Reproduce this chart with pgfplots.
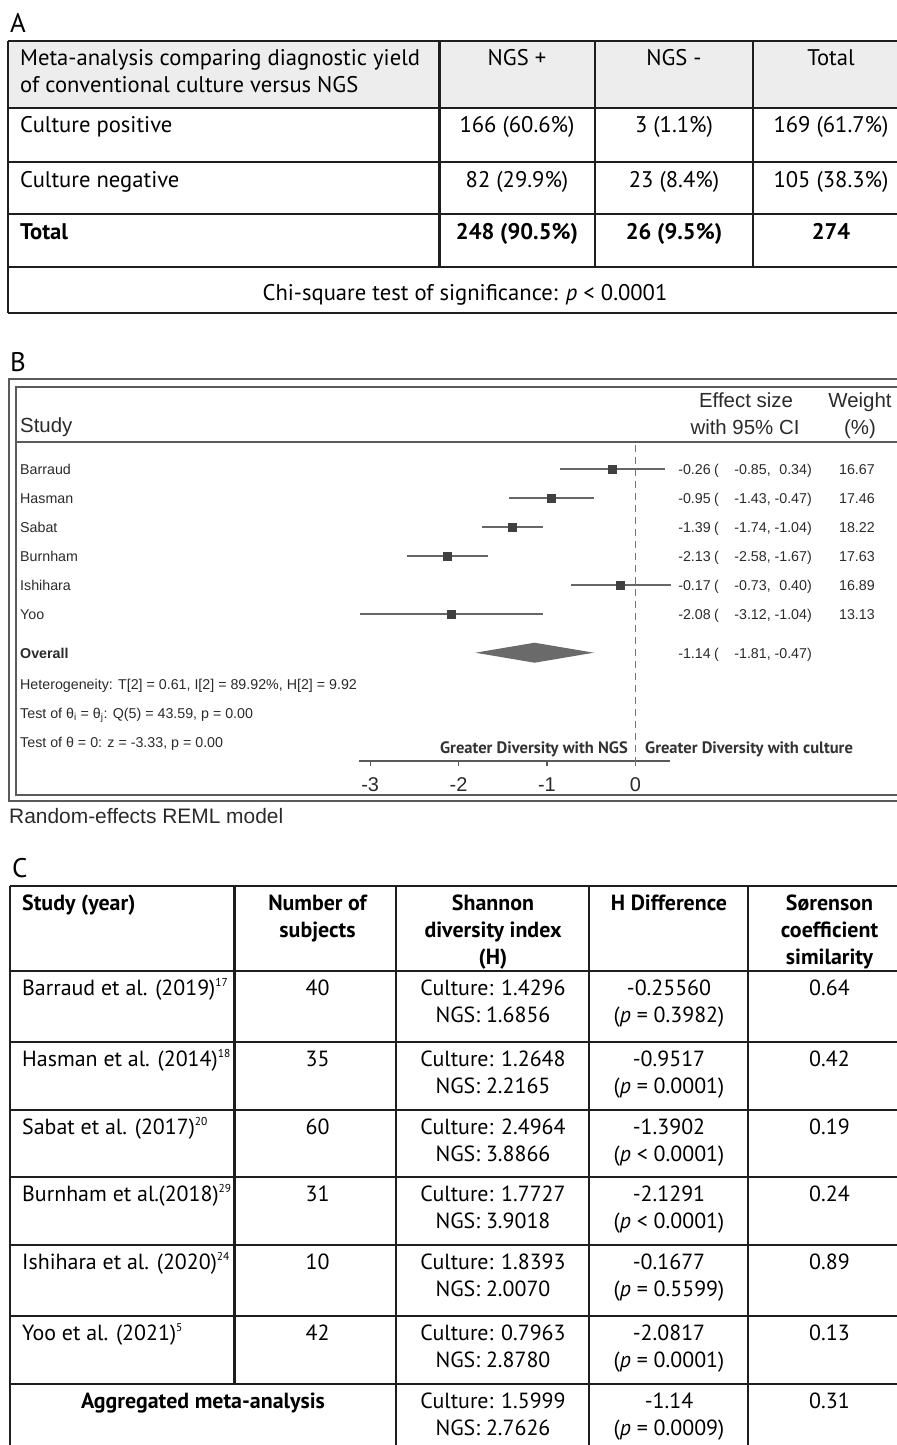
\documentclass[border=0pt]{standalone}
\usepackage{fontspec}
\setmainfont{PT Sans}
\newfontfamily\arialf{Liberation Sans}
\usepackage{pgfplots}
\pgfplotsset{compat=1.18}
\usepackage{pgfplotstable}

\definecolor{rule}{HTML}{1E1E1E}
\definecolor{hdr}{HTML}{EDEDED}
\definecolor{frame}{HTML}{5A5A5A}
\definecolor{ciline}{HTML}{666666}
\definecolor{sqfill}{HTML}{404040}
\definecolor{diam}{HTML}{6A6A6A}
\definecolor{ftext}{HTML}{2A2A2A}

\newcommand\tabAfont{\fontsize{22.7}{25}\selectfont}
\newcommand\tabfont{\fontsize{22}{25}\selectfont}
\newcommand\labfont{\fontsize{27}{30}\selectfont}
\newcommand\smallfont{\arialf\fontsize{14.3}{17}\selectfont}
\newcommand\headfont{\arialf\fontsize{20.5}{24}\selectfont}
\newcommand\divfont{\fontsize{16.6}{19}\selectfont\bfseries}
\newcommand\sref[1]{\raisebox{8.5bp}{\fontsize{11.5}{12}\selectfont#1}}

% forest plot data (y = row position, pixels above the axis line)
\pgfplotstableread{
ypos  es     lo     hi    wt
292  -0.26  -0.85   0.34  16.67
263  -0.95  -1.43  -0.47  17.46
234  -1.39  -1.74  -1.04  18.22
205  -2.13  -2.58  -1.67  17.63
176  -0.17  -0.73   0.40  16.89
147  -2.08  -3.12  -1.04  13.13
}\studies

\begin{document}
\begin{tikzpicture}
\begin{scope}[x=1bp,y=-1bp,every node/.style={inner sep=0pt}]
% ---------------- panel A ----------------
\node[anchor=base west,font=\labfont] at (10,32) {A};
\fill[hdr] (8,41) rectangle (906,108);
\begin{scope}[line width=2.2bp,draw=rule]
\foreach \yy in {41,108,162,214,267,313} \draw (8,\yy) -- (906,\yy);
\draw (8,41) -- (8,313);
\foreach \xx in {439.5,595,753} \draw (\xx,41) -- (\xx,267);
\end{scope}
\begin{scope}[font=\tabAfont]
\node[anchor=base west] at (20,65) {Meta-analysis comparing diagnostic yield};
\node[anchor=base west] at (20,92) {of conventional culture versus NGS};
\node[anchor=base] at (517,65) {NGS +};
\node[anchor=base] at (674,65) {NGS -};
\node[anchor=base] at (831,65) {Total};
\node[anchor=base west] at (20,132) {Culture positive};
\node[anchor=base] at (517,132) {166 (60.6\%)};
\node[anchor=base] at (674,132) {3 (1.1\%)};
\node[anchor=base] at (831,132) {169 (61.7\%)};
\node[anchor=base west] at (20,187) {Culture negative};
\node[anchor=base] at (517,187) {82 (29.9\%)};
\node[anchor=base] at (674,187) {23 (8.4\%)};
\node[anchor=base] at (831,187) {105 (38.3\%)};
\node[anchor=base west] at (20,239) {\bfseries Total};
\node[anchor=base] at (517,239) {\bfseries 248 (90.5\%)};
\node[anchor=base] at (674,239) {\bfseries 26 (9.5\%)};
\node[anchor=base] at (831,239) {\bfseries 274};
\node[anchor=base] at (465,300) {Chi-square test of significance: \textit{p} < 0.0001};
\end{scope}

% ---------------- panel B ----------------
\node[anchor=base west,font=\labfont] at (10,371) {B};
\begin{scope}[draw=frame,line width=1.4bp]
\draw (910,379) -- (9,379) -- (9,801) -- (910,801);
\draw (910,387) -- (16,387) -- (16,795) -- (910,795);
\draw[line width=2.4bp] (16,442) -- (910,442);
\end{scope}
\begin{scope}[text=ftext]
\node[anchor=base west,font=\headfont] at (20,432) {Study};
\node[anchor=base,font=\headfont] at (746,407) {Effect size};
\node[anchor=base,font=\headfont] at (745,434) {with 95\% CI};
\node[anchor=base,font=\headfont] at (860,407) {Weight};
\node[anchor=base,font=\headfont] at (860,434) {(\%)};
\foreach \yy/\nm in {474/Barraud,503/Hasman,532/Sabat,561/Burnham,590/Ishihara,619/Yoo}
  \node[anchor=base west,font=\smallfont] at (20,\yy) {\nm};
\node[anchor=base west,font=\smallfont\bfseries] at (20,658) {Overall};
\node[anchor=base west,font=\smallfont] at (20,689.5) {Heterogeneity: T[2] = 0.61, I[2] = 89.92\%, H[2] = 9.92};
\node[anchor=base west,font=\smallfont] at (20,718) {Test of θ\textsubscript{i} = θ\textsubscript{j}: Q(5) = 43.59, p = 0.00};
\node[anchor=base west,font=\smallfont] at (20,747) {Test of θ = 0: z = -3.33, p = 0.00};
\foreach \yy/\es/\lo/\hi/\wt in {474/-0.26/-0.85/0.34/16.67, 503/-0.95/-1.43/-0.47/17.46,
    532/-1.39/-1.74/-1.04/18.22, 561/-2.13/-2.58/-1.67/17.63,
    590/-0.17/-0.73/0.40/16.89, 619/-2.08/-3.12/-1.04/13.13}{
  \node[anchor=base east,font=\smallfont] at (711,\yy) {\es};
  \node[anchor=base west,font=\smallfont] at (714,\yy) {(};
  \node[anchor=base east,font=\smallfont] at (771,\yy) {\lo,};
  \node[anchor=base east,font=\smallfont] at (812,\yy) {\hi)};
  \node[anchor=base east,font=\smallfont] at (875,\yy) {\wt};
}
\node[anchor=base east,font=\smallfont] at (711,658) {-1.14};
\node[anchor=base west,font=\smallfont] at (714,658) {(};
\node[anchor=base east,font=\smallfont] at (771,658) {-1.81,};
\node[anchor=base east,font=\smallfont] at (812,658) {-0.47)};
\node[anchor=base east,font=\divfont,text=black!80] at (628,753) {Greater Diversity with NGS};
\node[anchor=base west,font=\divfont,text=black!80] at (645,753) {Greater Diversity with culture};
\end{scope}
\node[anchor=base west,font=\arialf\fontsize{21}{24}\selectfont,text=ftext] at (9,823.5) {Random-effects REML model};

% ---------------- panel C ----------------
\node[anchor=base west,font=\labfont] at (12,877) {C};
\begin{scope}[line width=2.2bp,draw=rule]
\foreach \yy in {886,971,1042,1110,1177,1245,1316,1384} \draw (10,\yy) -- (906,\yy);
\foreach \xx in {10,396,589,748} \draw (\xx,886) -- (\xx,1452);
\draw (234.5,886) -- (234.5,1384);
\end{scope}
\begin{scope}[font=\tabfont]
\node[anchor=base west] at (22,910) {\bfseries Study (year)};
\node[anchor=base] at (317.5,910) {\bfseries Number of};
\node[anchor=base] at (317.5,937) {\bfseries subjects};
\node[anchor=base] at (493,910) {\bfseries Shannon};
\node[anchor=base] at (493,937) {\bfseries diversity index};
\node[anchor=base] at (493,964) {\bfseries (H)};
\node[anchor=base] at (669,910) {\bfseries H Difference};
\node[anchor=base] at (829.5,910) {\bfseries Sørenson};
\node[anchor=base] at (829.5,937) {\bfseries coefficient};
\node[anchor=base] at (829.5,964) {\bfseries similarity};
\foreach \rtop/\rname/\rref/\rnum/\rcul/\rngs/\rdif/\rpval/\rsor in {
   971/Barraud et al. (2019)/17/40/1.4296/1.6856/-0.25560/= 0.3982/0.64,
   1042/Hasman et al. (2014)/18/35/1.2648/2.2165/-0.9517/= 0.0001/0.42,
   1110/Sabat et al. (2017)/20/60/2.4964/3.8866/-1.3902/< 0.0001/0.19,
   1177/Burnham et al.\kern-0.5bp(2018)/29/31/1.7727/3.9018/-2.1291/< 0.0001/0.24,
   1245/Ishihara et al. (2020)/24/10/1.8393/2.0070/-0.1677/= 0.5599/0.89,
   1316/Yoo et al. (2021)/5/42/0.7963/2.8780/-2.0817/= 0.0001/0.13}{
  \node[anchor=base west] at (22,\rtop+24) {\rname\sref{\rref}};
  \node[anchor=base] at (317.5,\rtop+24) {\rnum};
  \node[anchor=base] at (493,\rtop+24) {Culture: \rcul};
  \node[anchor=base] at (493,\rtop+51) {NGS: \rngs};
  \node[anchor=base] at (669,\rtop+24) {\rdif};
  \node[anchor=base] at (669,\rtop+51) {(\textit{p} \rpval)};
  \node[anchor=base] at (829.5,\rtop+24) {\rsor};
}
\node[anchor=base] at (203,1408) {\bfseries Aggregated meta-analysis};
\node[anchor=base] at (493,1408) {Culture: 1.5999};
\node[anchor=base] at (493,1435) {NGS: 2.7626};
\node[anchor=base] at (669,1408) {-1.14};
\node[anchor=base] at (669,1435) {(\textit{p} = 0.0009)};
\node[anchor=base] at (829.5,1408) {0.31};
\end{scope}
\end{scope}

% ---------------- forest plot axis ----------------
\begin{axis}[
  at={(359bp,-445bp)}, anchor=north west,
  scale only axis, width=311bp, height=316bp,
  xmin=-3.126, xmax=0.3925, ymin=0, ymax=316,
  axis x line=bottom, axis y line=none,
  axis line style={-, draw=frame, line width=1.4bp},
  xtick={-3,-2,-1,0}, xticklabels={-3,-2,-1,0},
  ytick=\empty,
  tick align=outside, major tick length=5bp,
  tick style={draw=frame, line width=1.2bp},
  xticklabel style={font=\arialf\fontsize{20}{24}\selectfont, text=ftext, yshift=-8bp},
  clip=false,
]
\addplot[draw=black!55, line width=1.3bp, dash pattern=on 7bp off 5bp]
  coordinates {(0,316) (0,-4)};
\addplot[fill=diam, draw=none]
  coordinates {(-1.81,108.3) (-1.14,118.3) (-0.47,108.3) (-1.14,98.3)} -- cycle;
\addplot[only marks, mark=square*, mark size=3.8bp,
  mark options={fill=sqfill, draw=sqfill},
  error bars/.cd, x dir=both, x explicit, error mark=none,
  error bar style={draw=ciline, line width=2bp}]
  table[x=es, y=ypos,
        x error plus expr=\thisrow{hi}-\thisrow{es},
        x error minus expr=\thisrow{es}-\thisrow{lo}] {\studies};
\end{axis}
\pgfresetboundingbox
\path[use as bounding box] (0,0) rectangle (897bp,-1445bp);
\end{tikzpicture}
\end{document}
